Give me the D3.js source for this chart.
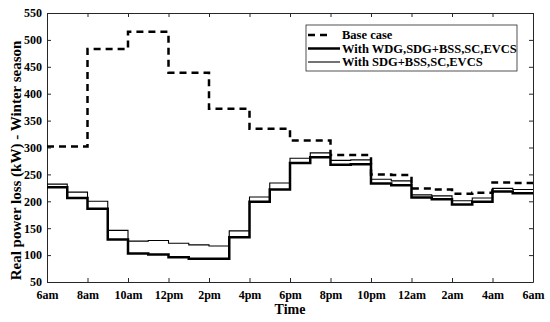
<!DOCTYPE html>
<html lang="en">
<head>
    <meta charset="UTF-8">
    <title>Real power loss - Winter season</title>
    <style>
        body { margin: 0; background: #fff; }
        svg text { font-family: "Times New Roman", "Liberation Serif", serif; font-weight: bold; fill: #000; }
    </style>
    <script src="https://d3js.org/d3.v7.min.js"></script>
</head>
<body>
    <svg width="550" height="322"></svg>
    <script>
        // hourly steps, starting at 6am
        const hours = d3.range(0, 24);
        const tickLabels = ["6am", "8am", "10am", "12pm", "2pm", "4pm", "6pm", "8pm", "10pm", "12am", "2am", "4am", "6am"];
        const yTicks = [50, 100, 150, 200, 250, 300, 350, 400, 450, 500, 550];

        const baseCase = [302, 302, 483, 483, 515, 515, 439, 439, 372, 372, 335, 335,
                          313, 313, 286, 286, 250, 249, 224, 222, 214, 216, 235, 234];
        const withWDG  = [226, 206, 186, 129, 103, 101, 96, 93, 93, 133, 199, 222,
                          271, 282, 268, 269, 233, 230, 207, 204, 194, 199, 218, 215];
        const withSDG  = [232, 217, 200, 146, 126, 127, 122, 119, 117, 145, 208, 234,
                          280, 290, 276, 277, 241, 238, 212, 210, 201, 206, 224, 222];

        const series = [
            { name: "Base case", values: baseCase, width: 2.5, dash: "7,5", legendEnd: 327 },
            { name: "With WDG,SDG+BSS,SC,EVCS", values: withWDG, width: 2.5, dash: null, legendEnd: 340 },
            { name: "With SDG+BSS,SC,EVCS", values: withSDG, width: 1.1, dash: null, legendEnd: 340 }
        ];

        const svg = d3.select("svg");
        const margin = { left: 47, right: 17, top: 13, bottom: 40 };
        const width = +svg.attr("width");
        const height = +svg.attr("height");

        const x = d3.scaleLinear().domain([0, 24]).range([margin.left, width - margin.right]);
        const y = d3.scaleLinear().domain([50, 550]).range([height - margin.bottom, margin.top]);

        const axisColor = "#262626";
        const xTickVals = d3.range(0, 25, 2);

        // bottom / left axes with inward ticks
        const xAxis = svg.append("g")
            .attr("transform", `translate(0,${y(50)})`)
            .call(d3.axisBottom(x).tickValues(xTickVals).tickSizeInner(-4).tickSizeOuter(0)
                .tickFormat((d, i) => tickLabels[i]));
        xAxis.selectAll("text").attr("y", 8).style("font-size", "12px");

        const yAxis = svg.append("g")
            .attr("transform", `translate(${x(0)},0)`)
            .call(d3.axisLeft(y).tickValues(yTicks).tickSizeInner(-4).tickSizeOuter(0));
        yAxis.selectAll("text").attr("x", -5).style("font-size", "12px");

        // mirrored top / right ticks
        const xTop = svg.append("g")
            .attr("transform", `translate(0,${y(550)})`)
            .call(d3.axisTop(x).tickValues(xTickVals).tickSizeInner(-4).tickSizeOuter(0).tickFormat(""));
        const yRight = svg.append("g")
            .attr("transform", `translate(${x(24)},0)`)
            .call(d3.axisRight(y).tickValues(yTicks).tickSizeInner(-4).tickSizeOuter(0).tickFormat(""));

        [xAxis, yAxis, xTop, yRight].forEach(g => {
            g.select(".domain").attr("stroke", axisColor);
            g.selectAll(".tick line").attr("stroke", axisColor);
        });

        const line = d3.line()
            .x(d => x(d[0]))
            .y(d => y(d[1]))
            .curve(d3.curveStepAfter);

        series.forEach(s => {
            const pts = hours.map((h, i) => [h, s.values[i]]);
            pts.push([24, s.values[s.values.length - 1]]);
            svg.append("path")
                .datum(pts)
                .attr("fill", "none")
                .attr("stroke", "#000")
                .attr("stroke-width", s.width)
                .attr("stroke-dasharray", s.dash)
                .attr("d", line);
        });

        // axis titles
        svg.append("text")
            .attr("x", (x(0) + x(24)) / 2)
            .attr("y", 314)
            .attr("text-anchor", "middle")
            .style("font-size", "14px")
            .text("Time");

        svg.append("text")
            .attr("transform", `translate(21,${(y(50) + y(550)) / 2 + 13}) rotate(-90)`)
            .attr("text-anchor", "middle")
            .style("font-size", "15px")
            .text("Real power loss (kW) - Winter season");

        // legend
        const legend = svg.append("g");
        legend.append("rect")
            .attr("x", 306).attr("y", 25)
            .attr("width", 211).attr("height", 46)
            .attr("fill", "#fff")
            .attr("stroke", axisColor)
            .attr("stroke-width", 0.8);

        series.forEach((s, i) => {
            const ly = 35 + i * 13.5;
            legend.append("line")
                .attr("x1", 308).attr("x2", s.legendEnd)
                .attr("y1", ly).attr("y2", ly)
                .attr("stroke", "#000")
                .attr("stroke-width", s.width)
                .attr("stroke-dasharray", s.dash);
            legend.append("text")
                .attr("x", 342).attr("y", ly)
                .attr("dy", "0.35em")
                .style("font-size", "12.5px")
                .text(s.name);
        });
    </script>
</body>
</html>
